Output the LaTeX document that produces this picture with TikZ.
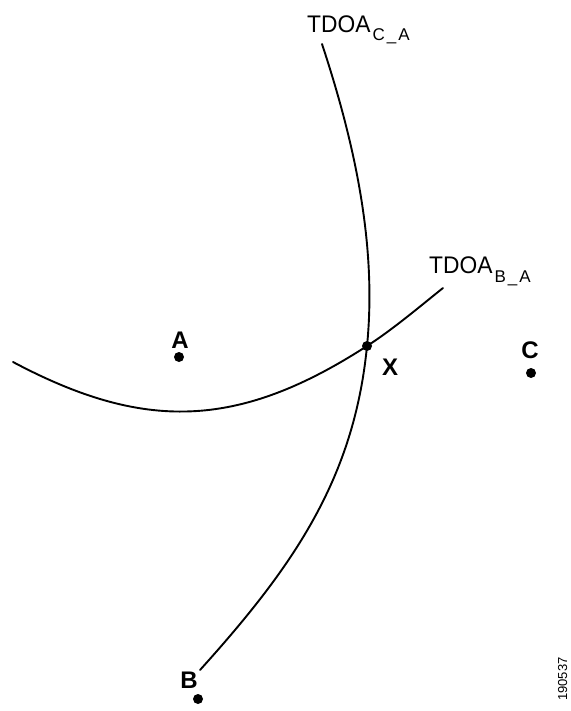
\documentclass[tikz,border=0pt]{standalone}
\usepackage{fontspec}
\setmainfont{Liberation Sans}
\begin{document}
\begin{tikzpicture}[x=1pt,y=-1pt,
  curve/.style={line width=1.9pt, line cap=round},
  dotnode/.style={circle, fill=black, inner sep=0pt, minimum size=10pt},
  ptlabel/.style={font=\fontsize{24}{24}\selectfont\bfseries, inner sep=0pt, anchor=base},
  tdoa/.style={font=\fontsize{24}{24}\selectfont, inner sep=0pt, anchor=base west}]
\useasboundingbox (0,0) rectangle (570,711);
% points
\node[dotnode] (dA) at (179,357) {};
\node[dotnode] (dC) at (531,373) {};
\node[dotnode] (dX) at (367,346) {};
\node[dotnode] (dB) at (198,699) {};
\node[ptlabel] (lA) at (180,348) {A};
\node[ptlabel] (lC) at (530,358) {C};
\node[ptlabel] (lX) at (390,375) {X};
\node[ptlabel] (lB) at (189,688) {B};
\coordinate (c1s) at (322,44);
\coordinate (c1e) at (200,670);
\coordinate (c2s) at (13,362);
\coordinate (c2e) at (443,288);
% curve TDOA C_A
\draw[curve] (c1s) .. controls (355,144) and (377,246) .. (dX.center)
  .. controls (354,480) and (292,568) .. (c1e);
% curve TDOA B_A
\draw[curve] (c2s) .. controls (143,431) and (237,430) .. (dX.center)
  .. controls (392,330) and (418,308) .. (c2e);
% labels
\node[tdoa] (tCA) at (307,33) {\scalebox{0.95}[1]{TDOA}\kern2pt\raisebox{-8pt}{\fontsize{17}{17}\selectfont C\kern2pt\_\kern2pt A}};
\node[tdoa] (tBA) at (429,273) {\scalebox{0.95}[1]{TDOA}\kern2pt\raisebox{-9pt}{\fontsize{17}{17}\selectfont B\kern2pt\_\kern2pt A}};
\node[rotate=90, anchor=base west, inner sep=0pt, font=\fontsize{13}{13}\selectfont] (num) at (567,701) {190537};
\end{tikzpicture}
\end{document}
